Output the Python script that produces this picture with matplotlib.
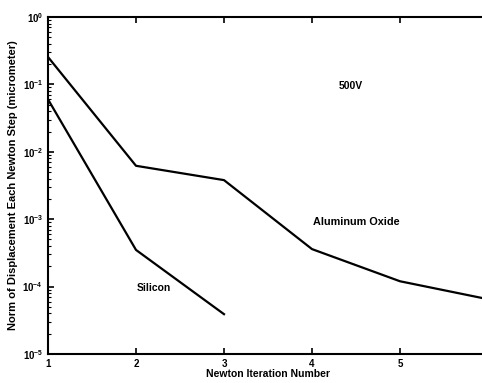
import math
import matplotlib
matplotlib.use("Agg")
import matplotlib.pyplot as plt
from matplotlib.ticker import FuncFormatter, LogLocator

plt.rcParams['font.family'] = ['Liberation Sans', 'DejaVu Sans']
plt.rcParams['font.weight'] = 'bold'
plt.rcParams['mathtext.fontset'] = 'custom'
plt.rcParams['mathtext.bf'] = 'Liberation Sans:bold'
plt.rcParams['mathtext.rm'] = 'Liberation Sans:bold'

# data
iterations_al = [1, 2, 3, 4, 5, 6]
norm_al = [0.255, 0.0062, 0.0038, 3.6e-4, 1.2e-4, 6.5e-5]
iterations_si = [1, 2, 3]
norm_si = [0.06, 3.5e-4, 3.9e-5]
x_ticks = [1, 2, 3, 4, 5]
labels = ["Aluminum Oxide", "Silicon", "500V"]

fig = plt.figure(figsize=(4.82, 3.83), dpi=100)
ax = fig.add_axes([48 / 482, 1 - 354 / 383, 440 / 482, 337 / 383])

ax.plot(iterations_al, norm_al, color='black', lw=1.6)
ax.plot(iterations_si, norm_si, color='black', lw=1.6)

ax.set_yscale('log')
ax.set_xlim(1, 6)
ax.set_ylim(1e-5, 1)
ax.set_xticks(x_ticks)
ax.yaxis.set_major_locator(LogLocator(base=10, numticks=10))
ax.yaxis.set_major_formatter(FuncFormatter(lambda v, p: r'$\mathbf{10^{%d}}$' % round(math.log10(v))))
ax.tick_params(which='both', direction='in', top=True, right=True, labelsize=7)
ax.tick_params(which='major', length=4, width=1.2)
ax.tick_params(which='minor', length=2, width=0.8)
for s in ax.spines.values():
    s.set_linewidth(1.5)

ax.set_xlabel("Newton Iteration Number", fontsize=7.5, fontweight='bold', labelpad=0)
ax.set_ylabel("Norm of Displacement Each Newton Step (micrometer)", fontsize=8, fontweight='bold', labelpad=3)

ax.text(4.50, 9.1e-4, labels[0], fontsize=7.8, fontweight='bold', ha='center', va='center')
ax.text(2.2, 9.5e-5, labels[1], fontsize=7.5, fontweight='bold', ha='center', va='center')
ax.text(4.44, 0.095, labels[2], fontsize=7.5, fontweight='bold', ha='center', va='center')

fig.savefig("out.png", dpi=100)
